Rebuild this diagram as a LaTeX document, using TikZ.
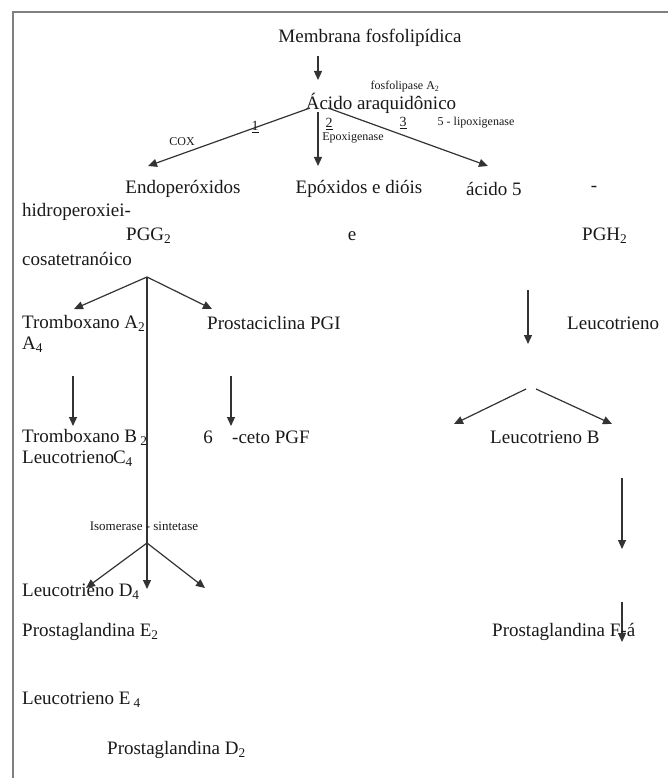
\documentclass[tikz,border=0pt]{standalone}
\usepackage{fontspec}
\setmainfont{Liberation Serif}
\usetikzlibrary{arrows,arrows.meta}

\begin{document}
\begin{tikzpicture}[x=1pt,y=-1pt,
    every node/.style={inner sep=0pt,font=\fontsize{19}{22}\selectfont,text=black!90},
    lbl/.style={font=\fontsize{12}{14}\selectfont},
    num/.style={font=\fontsize{14}{16}\selectfont},
    arr/.style={draw=black!80,line width=1.2pt,-{Triangle[length=9pt,width=8pt]}}]
  \useasboundingbox (0,0) rectangle (668,778);
  \draw[black!50,line width=1.8pt] (13,778) -- (13,12) -- (668,12);

  % top part
  \node (memb) at (370,38) {Membrana fosfolipídica};
  \node[lbl] (fosf) at (405,87) {fosfolipase A\textsubscript{2}};
  \node (aa) at (381,103) {Ácido araquidônico};
  \coordinate (m1) at (318,56);
  \coordinate (m2) at (318,80);
  \draw[arr] (m1) -- (m2);

  \coordinate (s1) at (310,108);
  \coordinate (s2) at (318,112);
  \coordinate (s3) at (328,108);
  \coordinate (t1) at (148,166);
  \coordinate (t2) at (318,166);
  \coordinate (t3) at (488,166);
  \draw[arr] (s1) -- (t1);
  \draw[arr] (s2) -- (t2);
  \draw[arr] (s3) -- (t3);
  \node[lbl] (cox) at (182,142) {COX};
  \node[num] (n1) at (255,127) {\underline{1}};
  \node[num] (n2) at (329,124) {\underline{2}};
  \node[lbl] (epx) at (353,138) {Epoxigenase};
  \node[num] (n3) at (403,123) {\underline{3}};
  \node[lbl] (lipo) at (476,123) {5 - lipoxigenase};

  % second level
  \node (endo) at (183,189) {Endoperóxidos};
  \node (epox) at (359,189) {Epóxidos e dióis};
  \node[anchor=west] (ac5) at (466,189) {ácido 5};
  \node (hif) at (594,189) {-};
  \node[anchor=west] (hid) at (22,212) {hidroperoxiei-};
  \node[anchor=west] (pgg) at (126,236) {PGG\textsubscript{2}};
  \node (e) at (352,236) {e};
  \node[anchor=west] (pgh) at (582,236) {PGH\textsubscript{2}};
  \node[anchor=west] (cosa) at (22,259) {cosatetranóico};

  % COX branch
  \coordinate (b1) at (147,277);
  \coordinate (b1l) at (74,309);
  \coordinate (b1r) at (212,309);
  \coordinate (b1d) at (147,589);
  \draw[arr] (b1) -- (b1l);
  \draw[arr] (b1) -- (b1r);
  \draw[arr] (b1) -- (b1d);

  \coordinate (r1) at (528,290);
  \coordinate (r2) at (528,344);
  \draw[arr] (r1) -- (r2);

  \node[anchor=west] (txa) at (22,323) {Tromboxano A\textsubscript{2}};
  \node[anchor=west] (pgi) at (207,323) {Prostaciclina PGI};
  \node[anchor=west] (leu) at (567,323) {Leucotrieno};
  \node[anchor=west] (a4) at (22,345) {A\textsubscript{4}};

  \coordinate (d1) at (73,376);
  \coordinate (d2) at (73,426);
  \coordinate (d3) at (231,376);
  \coordinate (d4) at (231,426);
  \draw[arr] (d1) -- (d2);
  \draw[arr] (d3) -- (d4);

  \coordinate (b2l0) at (526,389);
  \coordinate (b2r0) at (536,389);
  \coordinate (b2l) at (454,424);
  \coordinate (b2r) at (612,424);
  \draw[arr] (b2l0) -- (b2l);
  \draw[arr] (b2r0) -- (b2r);

  \node[anchor=west] (txb) at (22,437) {Tromboxano B\,\textsubscript{2}};
  \node (six) at (208,437) {6};
  \node[anchor=west] (keto) at (232,437) {-ceto PGF};
  \node[anchor=west] (leub) at (490,437) {Leucotrieno B};
  \node[anchor=west] (ltc) at (22,459) {Leucotrieno\kern-1pt C\textsubscript{4}};

  \coordinate (r3) at (622,478);
  \coordinate (r4) at (622,549);
  \draw[arr] (r3) -- (r4);

  \node[lbl,font=\fontsize{13}{15}\selectfont] (iso) at (144,526) {Isomerase - sintetase};
  \coordinate (b3) at (147,543);
  \coordinate (b3l) at (86,588);
  \coordinate (b3r) at (205,588);
  \draw[arr] (b3) -- (b3l);
  \draw[arr] (b3) -- (b3r);

  \node[anchor=west] (ltd) at (22,592) {Leucotrieno D\textsubscript{4}};
  \coordinate (r5) at (622,602);
  \coordinate (r6) at (622,642);
  \draw[arr] (r5) -- (r6);

  \node[anchor=west] (pge) at (22,632) {Prostaglandina E\textsubscript{2}};
  \node[anchor=west] (pgf) at (492,632) {Prostaglandina F-á};
  \node[anchor=west] (lte) at (22,700) {Leucotrieno E\,\textsubscript{4}};
  \node[anchor=west] (pgd) at (107,750) {Prostaglandina D\textsubscript{2}};
\end{tikzpicture}
\end{document}
